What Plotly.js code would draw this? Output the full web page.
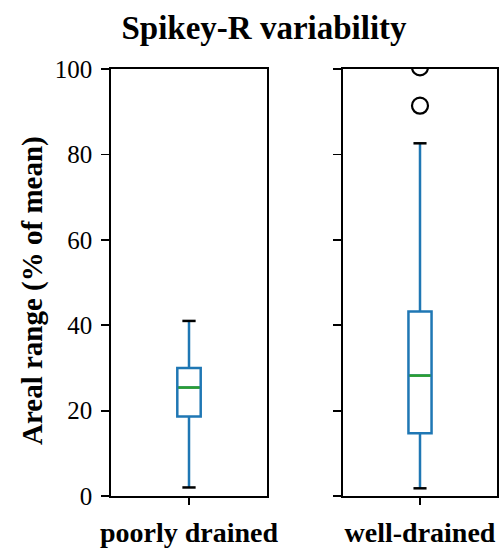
<!DOCTYPE html>
<html><head><meta charset="utf-8">
<script src="https://cdn.plot.ly/plotly-3.0.1.min.js"></script>
<style>html,body{margin:0;padding:0;background:#fff}#c{width:501px;height:552px}</style>
</head><body><div id="c"></div>
<script>
const categories = ["poorly drained", "well-drained"];
const q1 = [18.6, 14.7];
const median = [25.4, 28.2];
const q3 = [30.0, 43.2];
const lowerWhisker = [2.0, 1.8];
const upperWhisker = [41.0, 82.6];
const outliers = [[], [91.4, 100.4]];
const yTicks = [0, 20, 40, 60, 80, 100];

const BLUE = "#1f77b4", GREEN = "#2ca02c", BLACK = "#000";
const POS = 1, BOXW = 0.15, CAPW = 0.075;
const FONT = "Liberation Serif";

const traces = [];
const layout = {
  width: 501, height: 552,
  margin: {l: 0, r: 0, t: 0, b: 0},
  paper_bgcolor: "#fff", plot_bgcolor: "#fff",
  showlegend: false,
  font: {family: FONT, color: BLACK, size: 20},
  title: {text: "<b>Spikey-R variability</b>", font: {family: FONT, size: 33, color: BLACK},
          x: 264/501, xanchor: "center", y: 1 - 27/552, yanchor: "middle", yref: "container"},
  annotations: [{text: "<b>Areal range (% of mean)</b>", xref: "paper", yref: "paper",
                 x: 32/501, y: (552 - 291)/552, textangle: -90, showarrow: false,
                 font: {family: FONT, size: 29, color: BLACK}, xanchor: "center", yanchor: "middle"}]
};
const xDomains = [[111/501, 267/501], [343/501, 497/501]];
const yDomain = [(552 - 496)/552, (552 - 69)/552];

categories.forEach((cat, i) => {
  const n = i + 1;
  const xa = n === 1 ? "x" : "x" + n, ya = n === 1 ? "y" : "y" + n;
  traces.push({
    type: "box", x: [POS], q1: [q1[i]], median: [median[i]], q3: [q3[i]],
    lowerfence: [lowerWhisker[i]], upperfence: [upperWhisker[i]],
    width: BOXW, whiskerwidth: 0, boxpoints: false,
    line: {color: BLUE, width: 2.5}, fillcolor: "rgba(0,0,0,0)",
    xaxis: xa, yaxis: ya, hoverinfo: "skip"
  });
  traces.push({
    type: "scatter", mode: "lines", x: [POS - BOXW/2 + 0.007, POS + BOXW/2 - 0.007], y: [median[i], median[i]],
    line: {color: GREEN, width: 2.5}, xaxis: xa, yaxis: ya, hoverinfo: "skip"
  });
  [lowerWhisker[i], upperWhisker[i]].forEach(v => {
    traces.push({
      type: "scatter", mode: "lines", x: [POS - CAPW/2 - 0.005, POS + CAPW/2 + 0.005], y: [v, v],
      line: {color: BLACK, width: 2.5}, xaxis: xa, yaxis: ya, hoverinfo: "skip"
    });
  });
  if (outliers[i].length) {
    traces.push({
      type: "scatter", mode: "markers", x: outliers[i].map(() => POS), y: outliers[i],
      marker: {symbol: "circle-open", size: 16, color: BLACK, line: {color: BLACK, width: 2.2}},
      xaxis: xa, yaxis: ya, hoverinfo: "skip", cliponaxis: true
    });
  }
  layout["xaxis" + (n === 1 ? "" : n)] = {
    domain: xDomains[i], range: [0.5, 1.5], tickvals: [POS], ticktext: ["<b>" + cat + "</b>"],
    ticks: "outside", ticklen: 7, tickwidth: 1.8, tickcolor: BLACK, ticklabelstandoff: 4,
    showline: true, linecolor: BLACK, linewidth: 1.8, mirror: true,
    showgrid: false, zeroline: false, anchor: ya, fixedrange: true,
    tickfont: {family: FONT, size: 28, color: BLACK}
  };
  layout["yaxis" + (n === 1 ? "" : n)] = {
    domain: yDomain, range: [0, 100], tickvals: yTicks, showticklabels: n === 1,
    ticks: "outside", ticklen: 8, tickwidth: 1.8, tickcolor: BLACK, ticklabelstandoff: 4,
    showline: true, linecolor: BLACK, linewidth: 1.8, mirror: true,
    showgrid: false, zeroline: false, anchor: xa, fixedrange: true,
    tickfont: {family: FONT, size: 25, color: BLACK}
  };
});

Plotly.newPlot("c", traces, layout, {displayModeBar: false, staticPlot: true});
</script>
</body></html>
